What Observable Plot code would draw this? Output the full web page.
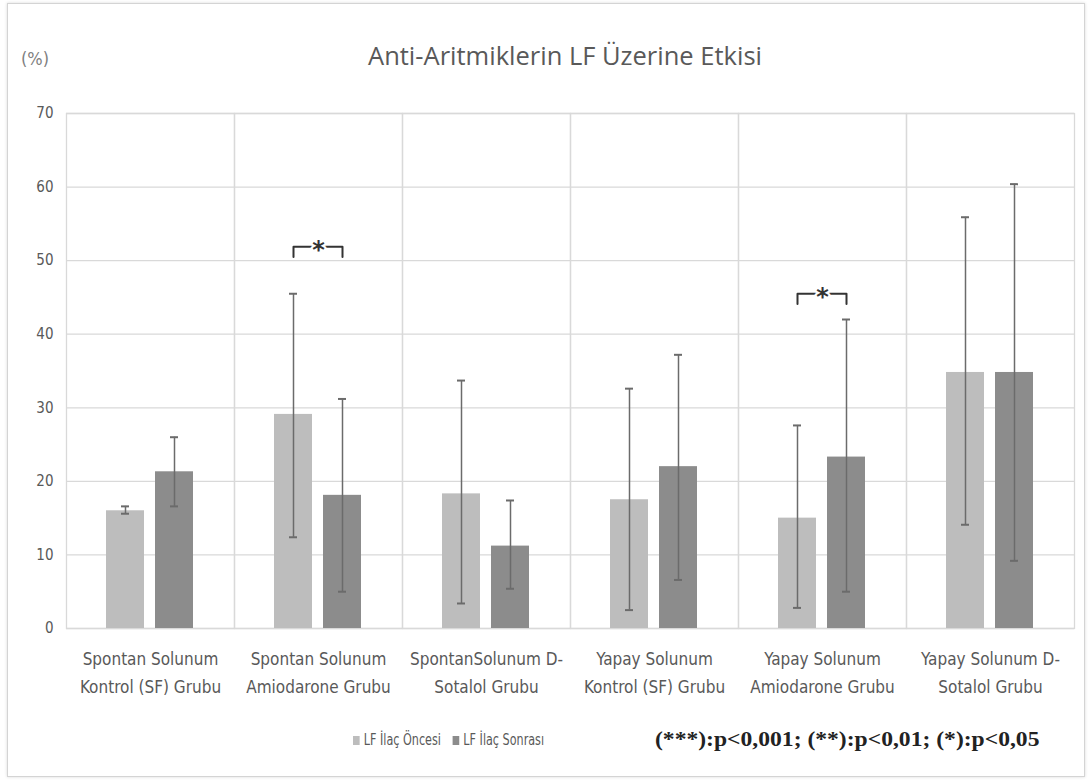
<!DOCTYPE html>
<html>
<head>
<meta charset="utf-8">
<script src="https://cdn.jsdelivr.net/npm/d3@7"></script>
<script src="https://cdn.jsdelivr.net/npm/@observablehq/plot@0.6"></script>
<style>
  html, body { margin: 0; padding: 0; background: #fff; }
  #page { position: relative; width: 1092px; height: 782px; overflow: hidden; background: #fff; }
  #frame { position: absolute; left: 7px; top: 3px; width: 1076px; height: 772px; border: 1px solid #d4d4d4; box-shadow: 0 0 3px rgba(0,0,0,0.15); }
  #chart { position: absolute; left: 0; top: 0; }
  .title { position: absolute; left: 0; width: 1130px; top: 38px; text-align: center; font-family: "Open Sans", "Liberation Sans", sans-serif; font-size: 25.5px; color: #595959; }
  .unit { position: absolute; left: 21px; top: 48px; font-family: "DejaVu Sans Condensed", "Roboto", sans-serif; font-size: 18px; color: #7f7f7f; }
  .legend { position: absolute; top: 731px; left: 353px; font-family: "DejaVu Sans Condensed", "Roboto", sans-serif; font-size: 15px; color: #595959; display: flex; align-items: center; transform: scaleX(0.83); transform-origin: left center; }
  .legend .sw { display: inline-block; width: 8px; height: 9px; margin-right: 5px; }
  .legend .item { display: inline-flex; align-items: center; margin-right: 14px; }
  .stats { position: absolute; top: 728px; left: 655px; font-family: "Liberation Serif", "DejaVu Serif", serif; font-weight: bold; font-size: 20px; color: #222; white-space: nowrap; transform: scaleX(1.18); transform-origin: left center; }
</style>
</head>
<body>
<div id="page">
  <div id="frame"></div>
  <div id="chart"></div>
  <div class="title">Anti-Aritmiklerin LF Üzerine Etkisi</div>
  <div class="unit">(%)</div>
  <div class="legend" id="legend"></div>
  <div class="stats">(***):p&lt;0,001; (**):p&lt;0,01; (*):p&lt;0,05</div>
</div>
<script>
// ---- data ----
const categories = [
  "Spontan Solunum\nKontrol (SF) Grubu",
  "Spontan Solunum\nAmiodarone Grubu",
  "SpontanSolunum D-\nSotalol Grubu",
  "Yapay Solunum\nKontrol (SF) Grubu",
  "Yapay Solunum\nAmiodarone Grubu",
  "Yapay Solunum D-\nSotalol Grubu"
];
const seriesNames = ["LF İlaç Öncesi", "LF İlaç Sonrası"];
const preValues  = [16.0, 29.1, 18.3, 17.5, 15.0, 34.8];
const preLow     = [15.6, 12.4, 3.4, 2.5, 2.8, 14.1];
const preHigh    = [16.6, 45.5, 33.7, 32.6, 27.6, 55.9];
const postValues = [21.3, 18.1, 11.2, 22.0, 23.3, 34.8];
const postLow    = [16.6, 5.0, 5.4, 6.6, 5.0, 9.2];
const postHigh   = [26.0, 31.2, 17.4, 37.2, 42.0, 60.4];
const sigGroups  = [categories[1], categories[4]];
const sigLevels  = [51.9, 45.5];
const sigLabels  = ["*", "*"];
const yTicks = [0, 10, 20, 30, 40, 50, 60, 70];

const colors = ["#bdbdbd", "#8c8c8c"];

// ---- table ----
const rows = [];
categories.forEach((c, i) => {
  rows.push({group: c, series: seriesNames[0], value: preValues[i], lo: preLow[i], hi: preHigh[i]});
  rows.push({group: c, series: seriesNames[1], value: postValues[i], lo: postLow[i], hi: postHigh[i]});
});
const bracketPts = [];
sigGroups.forEach((g, i) => {
  const drop = 1.4;
  bracketPts.push({group: g, series: seriesNames[0], y: sigLevels[i] - drop, k: i});
  bracketPts.push({group: g, series: seriesNames[0], y: sigLevels[i], k: i});
  bracketPts.push({group: g, series: seriesNames[1], y: sigLevels[i], k: i});
  bracketPts.push({group: g, series: seriesNames[1], y: sigLevels[i] - drop, k: i});
});
const sigText = sigGroups.map((g, i) => ({group: g, y: sigLevels[i], label: sigLabels[i]}));

const labelFont = '"DejaVu Sans Condensed", "Roboto", sans-serif';

const chart = Plot.plot({
  width: 1092,
  height: 782,
  marginLeft: 65,
  marginRight: 17,
  marginTop: 113,
  marginBottom: 154,
  style: {fontFamily: labelFont, color: "#595959", background: "transparent"},
  fx: {domain: categories, padding: 0, label: null},
  x: {domain: seriesNames, paddingInner: 0.224, paddingOuter: 0.826, axis: null},
  y: {domain: [0, 70], ticks: yTicks, label: null},
  color: {domain: seriesNames, range: colors},
  marks: [
    Plot.gridY(yTicks, {stroke: "#d9d9d9", strokeOpacity: 1, strokeWidth: 1.3}),
    Plot.frame({stroke: "#d9d9d9", strokeWidth: 1.3}),
    Plot.axisY(yTicks, {tickSize: 0, tickPadding: 13, fontSize: 15, label: null, fill: "#595959"}),
    Plot.axisFx({anchor: "bottom", tickSize: 0, tickPadding: 17, fontSize: 17, lineHeight: 1.65, label: null, fill: "#595959"}),
    Plot.barY(rows, {fx: "group", x: "series", y: "value", fill: "series"}),
    Plot.ruleX(rows, {fx: "group", x: "series", y1: "lo", y2: "hi", stroke: "#6b6b6b", strokeWidth: 1.5}),
    Plot.tickY(rows, {fx: "group", x: "series", y: "lo", stroke: "#6b6b6b", strokeWidth: 2, insetLeft: 15, insetRight: 15}),
    Plot.tickY(rows, {fx: "group", x: "series", y: "hi", stroke: "#6b6b6b", strokeWidth: 2, insetLeft: 15, insetRight: 15}),
    Plot.line(bracketPts, {fx: "group", x: "series", y: "y", z: "k", stroke: "#333", strokeWidth: 2}),
    Plot.text(sigText, {fx: "group", y: "y", text: "label", fontSize: 24, fontWeight: "bold", fill: "#333", stroke: "#fff", strokeWidth: 4, paintOrder: "stroke", dy: 4, fontFamily: "DejaVu Sans"})
  ]
});
document.getElementById("chart").appendChild(chart);

const legend = document.getElementById("legend");
seriesNames.forEach((s, i) => {
  const item = document.createElement("span");
  item.className = "item";
  const sw = document.createElement("span");
  sw.className = "sw";
  sw.style.background = colors[i];
  item.appendChild(sw);
  item.appendChild(document.createTextNode(s));
  legend.appendChild(item);
});
</script>
</body>
</html>
